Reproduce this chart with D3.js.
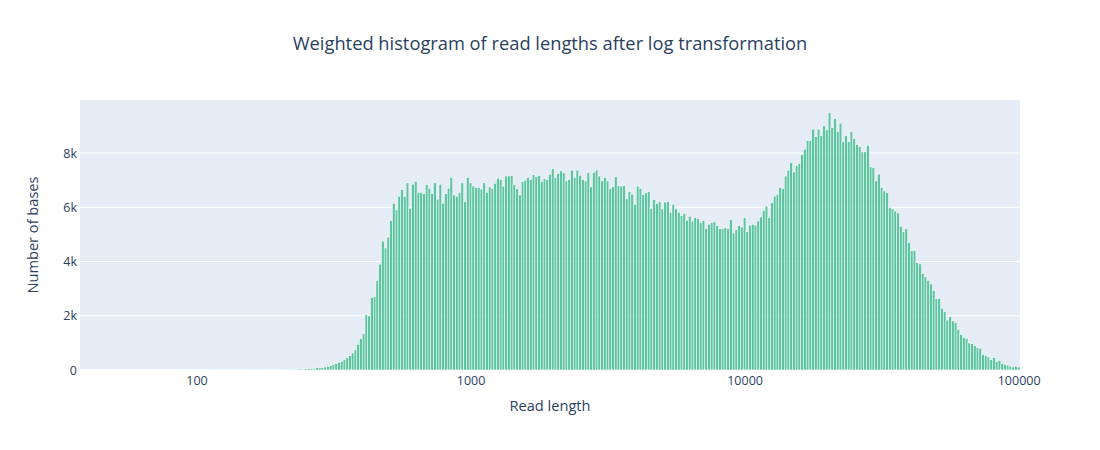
<!DOCTYPE html>
<html>
<head>
<meta charset="utf-8">
<script src="https://cdn.jsdelivr.net/npm/d3@7"></script>
<style>
  body { margin: 0; background: #fff; }
  text { font-family: "Open Sans", verdana, arial, sans-serif; fill: #2a3f5f; }
</style>
</head>
<body>
<svg id="chart" width="1100" height="450"></svg>
<script>
// histogram bins in log10(read length), centred on binStart + i * binSize
const binStart = 1.58;
const binSize = 0.01;

// bases per bin (1.58 ... 5.00)
const counts = [
  0,0,0,0,0,0,0,0,0,0, 0,0,0,0,0,0,0,0,0,0, 0,0,0,0,0,0,0,0,0,0,
  1,0,2,0,1,2,0,3,1,2,3,2,
  2,3,0,4,2,5,3,6,4,5,
  7,6,8,5,9,7,10,8,12,9,
  11,13,10,15,12,16,14,18,15,20,
  17,22,25,20,28,31,26,35,38,33,
  42,50,46,60,85,78,92,110,125,160,
  210,240,280,320,380,450,530,630,740,940,
  1150,1350,2040,1990,2670,2700,3300,3900,4750,4500,
  4900,5500,6150,5900,6400,6650,6400,6900,5960,6850,
  6960,6550,6550,6500,6830,6700,6500,6900,6300,6850,
  6150,6500,6700,7100,6450,6400,6550,6900,6200,7100,
  6900,6780,6730,6730,6670,6900,6550,6750,6700,6880,
  7070,7020,6780,7150,7150,7170,6830,6680,6450,6950,
  7000,7100,7020,7200,7120,7170,6950,7050,7020,7220,
  7420,7100,7250,7340,7270,6970,7020,7370,7100,7370,
  7180,7020,6970,7270,6750,7280,7370,7150,6970,7100,
  6970,6690,6750,7120,6800,6780,6800,6310,6580,6480,
  6110,6780,6700,6460,6530,6580,5950,6280,6140,6210,
  5940,6190,6210,5810,6110,5940,5810,5690,5770,5520,
  5670,5490,5620,5580,5440,5520,5220,5370,5440,5470,
  5320,5210,5220,5250,5220,5540,5050,5170,5320,5270,
  5620,5100,5340,5370,5340,5490,5640,5890,6040,5620,
  6160,6410,6480,6730,6680,7150,7370,7640,7300,7540,
  7620,7940,8140,8460,8460,8880,8600,8880,8650,9000,
  8850,9480,8930,9270,8800,9100,8410,8630,8410,8800,
  8530,8310,8230,8040,8040,8280,7490,7470,6970,7220,
  6730,6600,6530,5990,5940,5860,5790,5300,5100,5210,
  4700,4400,4410,3960,3910,3570,3440,3300,3170,2930,
  2630,2630,2280,2160,1840,1960,1810,1740,1500,1300,
  1200,1170,1000,970,900,830,800,580,530,480,
  380,460,310,360,230,210,180,140,110,140,
  110
];

const xTickVals = [2, 3, 4, 5];
const xTickLabels = ["100", "1000", "10000", "100000"];
const yTickVals = [0, 2000, 4000, 6000, 8000];
const yTickLabels = ["0", "2k", "4k", "6k", "8k"];

const title = "Weighted histogram of read lengths after log transformation";
const xTitle = "Read length";
const yTitle = "Number of bases";

// --- layout ---
const W = 1100, H = 450;
const margin = { top: 100, right: 80, bottom: 80, left: 80 };
const plotW = W - margin.left - margin.right;
const plotH = H - margin.top - margin.bottom;

const bins = counts.map((c, i) => ({
  x0: binStart + (i - 0.5) * binSize,
  x1: binStart + (i + 0.5) * binSize,
  value: c
}));

const x = d3.scaleLinear()
  .domain([bins[0].x0, bins[bins.length - 1].x1])
  .range([margin.left, margin.left + plotW]);
const y = d3.scaleLinear()
  .domain([0, d3.max(counts) * 1.05])
  .range([margin.top + plotH, margin.top]);

const svg = d3.select("#chart");

// plot background
svg.append("rect")
  .attr("x", margin.left)
  .attr("y", margin.top)
  .attr("width", plotW)
  .attr("height", plotH)
  .attr("fill", "#e5ecf6");

// y grid
svg.append("g")
  .selectAll("line")
  .data(yTickVals)
  .join("line")
  .attr("x1", margin.left)
  .attr("x2", margin.left + plotW)
  .attr("y1", d => y(d))
  .attr("y2", d => y(d))
  .attr("stroke", "#fff")
  .attr("stroke-width", d => d === 0 ? 2 : 1);

// bars
svg.append("g")
  .selectAll("rect")
  .data(bins.filter(d => d.value > 0))
  .join("rect")
  .attr("x", d => x(d.x0))
  .attr("width", d => x(d.x1) - x(d.x0))
  .attr("y", d => y(d.value))
  .attr("height", d => y(0) - y(d.value))
  .attr("fill", "#3cb98b")
  .attr("fill-opacity", 0.8)
  .attr("stroke", "#ffffff")
  .attr("stroke-width", 0.5);

// y axis
const yAxis = d3.axisLeft(y)
  .tickValues(yTickVals)
  .tickFormat((d, i) => yTickLabels[i])
  .tickSize(0)
  .tickPadding(3);
svg.append("g")
  .attr("transform", `translate(${margin.left},0)`)
  .call(yAxis)
  .call(g => g.select(".domain").remove())
  .selectAll("text")
  .attr("font-size", 12.5)
  .attr("fill", "#2a3f5f");

// x axis
const xAxis = d3.axisBottom(x)
  .tickValues(xTickVals)
  .tickFormat((d, i) => xTickLabels[i])
  .tickSize(0)
  .tickPadding(6);
svg.append("g")
  .attr("transform", `translate(0,${margin.top + plotH})`)
  .call(xAxis)
  .call(g => g.select(".domain").remove())
  .selectAll("text")
  .attr("font-size", 12.5)
  .attr("fill", "#2a3f5f");

svg.selectAll(".tick text").attr("font-family", null);

// titles
svg.append("text")
  .attr("x", W / 2)
  .attr("y", 50)
  .attr("text-anchor", "middle")
  .attr("font-size", 18.3)
  .text(title);

svg.append("text")
  .attr("x", margin.left + plotW / 2)
  .attr("y", 411)
  .attr("text-anchor", "middle")
  .attr("font-size", 14.6)
  .text(xTitle);

svg.append("text")
  .attr("transform", `translate(38,${margin.top + plotH / 2}) rotate(-90)`)
  .attr("text-anchor", "middle")
  .attr("font-size", 14.6)
  .text(yTitle);
</script>
</body>
</html>
